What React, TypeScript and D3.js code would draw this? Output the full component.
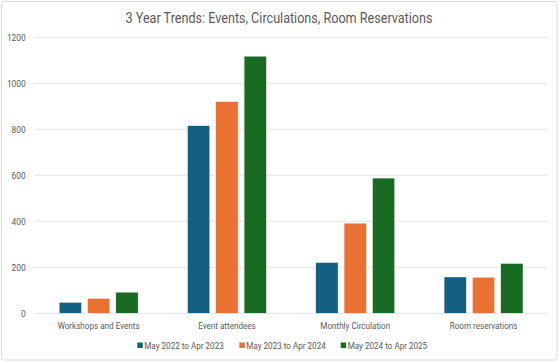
import React, { useEffect, useRef } from "react";
import * as d3 from "d3";

const categories = ["Workshops and Events", "Event attendees", "Monthly Circulation", "Room reservations"];
const seriesNames = ["May 2022 to Apr 2023", "May 2023 to Apr 2024", "May 2024 to Apr 2025"];
const y2023 = [48, 816, 221, 158];
const y2024 = [65, 921, 392, 157];
const y2025 = [92, 1118, 588, 217];
const yTicks = [0, 200, 400, 600, 800, 1000, 1200];
const colors = ["#156082", "#E97132", "#196B24"];

const W = 560;
const H = 363;

// text is squeezed a bit to look like the narrow Office font
const narrow = (sel: any, ratio: number) =>
  sel.each(function (this: SVGTextElement) {
    const w = this.getComputedTextLength();
    d3.select(this).attr("textLength", w * ratio).attr("lengthAdjust", "spacingAndGlyphs");
  });

const App = () => {
  const ref = useRef<SVGSVGElement>(null);

  useEffect(() => {
    const svg = d3.select(ref.current);
    svg.selectAll("*").remove();
    const font = "Roboto, 'Noto Sans', sans-serif";
    const series = [y2023, y2024, y2025];

    // frame
    svg.append("rect").attr("x", 1.5).attr("y", 1.5).attr("width", 555.5).attr("height", 358.5)
      .attr("fill", "#fff").attr("stroke", "#d9d9d9").attr("rx", 2);

    const title = svg.append("text").attr("x", 279).attr("y", 23).attr("text-anchor", "middle")
      .attr("font-family", font).attr("font-size", 14).attr("fill", "#595959")
      .text("3 Year Trends: Events, Circulations, Room Reservations");
    narrow(title, 0.9);

    const left = 34.5, right = 547.7, base = 313.3;
    const x0 = d3.scaleBand().domain(categories).range([left, right]);
    const groupW = 79;
    const x1 = d3.scaleBand().domain(seriesNames).range([0, groupW]).paddingInner(0.21);
    const y = d3.scaleLinear().domain([0, 1200]).range([base, 37.3]);

    // grid
    svg.append("g").selectAll("line").data(yTicks).enter().append("line")
      .attr("x1", left).attr("x2", right)
      .attr("y1", (d) => y(d)).attr("y2", (d) => y(d))
      .attr("stroke", "#e4e4e4").attr("stroke-width", 1);

    const tl = svg.append("g").selectAll("text").data(yTicks).enter().append("text")
      .attr("x", 25.7).attr("y", (d) => y(d) + 3.3).attr("text-anchor", "end")
      .attr("font-family", font).attr("font-size", 9).attr("fill", "#595959")
      .text((d) => d);
    narrow(tl, 0.93);

    // bars
    const groups = svg.append("g").selectAll("g").data(categories).enter().append("g")
      .attr("transform", (c) => `translate(${x0(c)! + (x0.bandwidth() - groupW) / 2},0)`);
    groups.selectAll("rect")
      .data((c, i) => series.map((s, j) => ({ name: seriesNames[j], v: s[i], j })))
      .enter().append("rect")
      .attr("x", (d) => x1(d.name)!)
      .attr("width", x1.bandwidth())
      .attr("y", (d) => y(d.v))
      .attr("height", (d) => base - y(d.v))
      .attr("fill", (d) => colors[d.j])
      .attr("stroke", "#fff").attr("stroke-width", 0.5);

    // category labels
    const cl = svg.append("g").selectAll("text").data(categories).enter().append("text")
      .attr("x", (c) => x0(c)! + x0.bandwidth() / 2).attr("y", 328.5).attr("text-anchor", "middle")
      .attr("font-family", font).attr("font-size", 9).attr("fill", "#595959")
      .text((c) => c);
    narrow(cl, 0.9);

    // legend
    const legX = [137.3, 239.3, 340.7];
    const leg = svg.append("g").selectAll("g").data(seriesNames).enter().append("g")
      .attr("transform", (d, i) => `translate(${legX[i]},348.5)`);
    leg.append("rect").attr("x", 0).attr("y", -6).attr("width", 5.5).attr("height", 5.5)
      .attr("fill", (d, i) => colors[i]);
    const lt = leg.append("text").attr("x", 7).attr("y", 0)
      .attr("font-family", font).attr("font-size", 9).attr("fill", "#595959")
      .text((d) => d);
    narrow(lt, 0.9);
  }, []);

  return (
    <svg ref={ref} width={W} height={H} style={{ position: "absolute", left: 0, top: 0 }} />
  );
};

export default App;
